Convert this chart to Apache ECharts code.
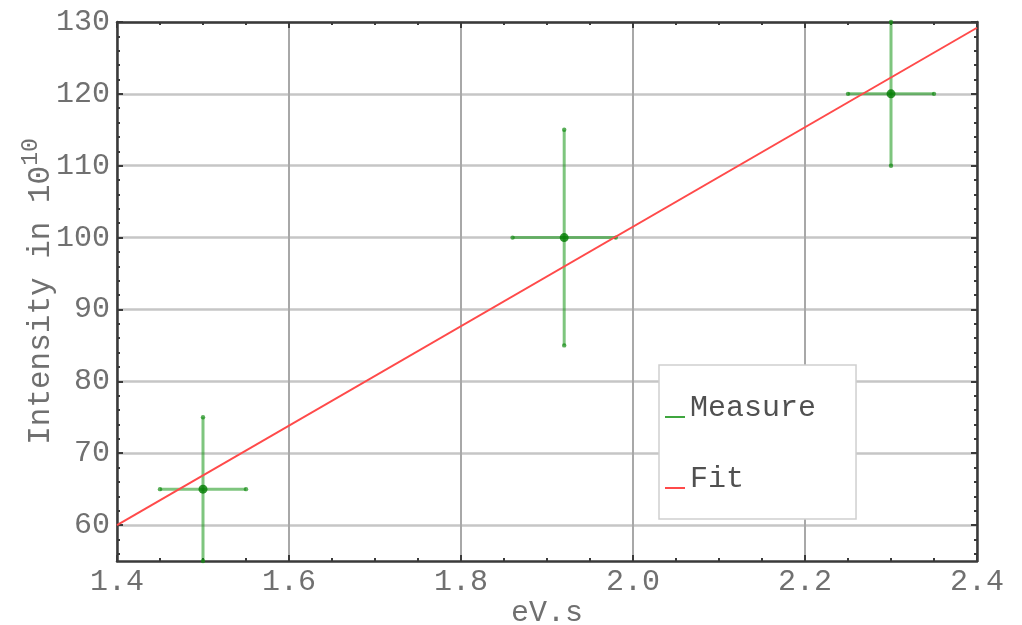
<!DOCTYPE html>
<html>
<head>
<meta charset="utf-8">
<script src="https://cdn.jsdelivr.net/npm/echarts@6/dist/echarts.min.js"></script>
<style>html,body{margin:0;padding:0;background:#fff;}#c{width:1022px;height:625px;}</style>
</head>
<body>
<div id="c"></div>
<script>
// ---- data ----
const measureX = [1.5, 1.92, 2.3];
const measureY = [65, 100, 120];
const errX = [0.05, 0.06, 0.05];
const errY = [10, 15, 10];
const fitX = [1.4, 2.4];
const fitY = [60.0, 129.2];
const xTicks = [1.4, 1.6, 1.8, 2.0, 2.2, 2.4];
const yTicks = [60, 70, 80, 90, 100, 110, 120, 130];
const yMinorTicks = [56, 58, 62, 64, 66, 68, 72, 74, 76, 78, 82, 84, 86, 88, 92, 94, 96, 98, 102, 104, 106, 108, 112, 114, 116, 118, 122, 124, 126, 128];

const FONT = '"Courier New", Courier, "Nimbus Mono PS", "Nimbus Mono L", FreeMono, "Liberation Mono", monospace';
const frame = '#3a3a3a';
const txt = '#707070';

const chart = echarts.init(document.getElementById('c'), null, {renderer: 'canvas'});

function yAx(opts) {
  return Object.assign({
    type: 'value', min: 55, max: 130, gridIndex: 0,
    axisLine: {show: false}, axisLabel: {show: false}, splitLine: {show: false},
    axisTick: {show: false}
  }, opts);
}

const legendIcon = 'path://M0,0 M0,18 L20,18 L20,20 L0,20 Z';

const option = {
  backgroundColor: '#fff',
  animation: false,
  grid: {left: 117, right: 45, top: 22, bottom: 64, containLabel: false, outerBoundsMode: 'none'},
  legend: {
    orient: 'vertical', left: 659, top: 365,
    backgroundColor: '#fff', borderColor: '#cfcfcf', borderWidth: 1.5,
    padding: [28, 40, 25, 6],
    itemWidth: 20, itemHeight: 20, itemGap: 41, itemTextGap: 5,
    selectedMode: false,
    textStyle: {fontFamily: FONT, fontSize: 30, color: '#505050'},
    data: [
      {name: 'Measure', icon: legendIcon, itemStyle: {color: '#3fa63f'}},
      {name: 'Fit', icon: legendIcon, itemStyle: {color: '#ff4a4a'}}
    ]
  },
  xAxis: [
    {
      type: 'value', min: xTicks[0], max: xTicks[xTicks.length - 1], interval: 0.2,
      name: 'eV.s', nameLocation: 'middle', nameGap: 37, nameMoveOverlap: false,
      nameTextStyle: {fontFamily: FONT, fontSize: 30, color: txt},
      axisLine: {show: true, lineStyle: {color: frame, width: 2.5}},
      axisTick: {show: true, inside: true, length: 6, lineStyle: {color: frame, width: 2}},
      minorTick: {show: true, splitNumber: 4, length: 3, lineStyle: {color: frame, width: 2}},
      axisLabel: {fontFamily: FONT, fontSize: 30, color: txt, margin: 6,
        formatter: v => v.toFixed(1)},
      splitLine: {show: true, lineStyle: {color: '#a8a8a8', width: 2}}
    },
    {
      type: 'value', position: 'top', min: xTicks[0], max: xTicks[xTicks.length - 1], interval: 0.2,
      axisLine: {show: true, lineStyle: {color: frame, width: 2.5}},
      axisTick: {show: true, inside: true, length: 6, lineStyle: {color: frame, width: 2}},
      minorTick: {show: true, splitNumber: 4, length: 3, lineStyle: {color: frame, width: 2}},
      axisLabel: {show: false}, splitLine: {show: false}
    }
  ],
  yAxis: [
    yAx({
      position: 'left',
      name: '{b|Intensity in 10}{s|10}', nameLocation: 'middle', nameGap: 54, nameRotate: 90,
      nameMoveOverlap: false,
      nameTextStyle: {
        fontFamily: FONT, color: txt,
        rich: {
          b: {fontFamily: FONT, fontSize: 31, color: txt, lineHeight: 44},
          s: {fontFamily: FONT, fontSize: 23, color: txt, verticalAlign: 'top', lineHeight: 24}
        }
      },
      axisLine: {show: true, lineStyle: {color: frame, width: 2.5}},
      axisTick: {show: true, inside: true, length: 6, customValues: yTicks, lineStyle: {color: frame, width: 2}},
      axisLabel: {show: true, customValues: yTicks, fontFamily: FONT, fontSize: 30, color: txt, margin: 7},
      splitLine: {show: true, lineStyle: {color: '#c6c6c6', width: 2.5}}
    }),
    yAx({
      position: 'left',
      axisTick: {show: true, inside: true, length: 3, customValues: yMinorTicks, lineStyle: {color: frame, width: 2}}
    }),
    yAx({
      position: 'right',
      axisLine: {show: true, lineStyle: {color: frame, width: 2.5}},
      axisTick: {show: true, inside: true, length: 6, customValues: yTicks, lineStyle: {color: frame, width: 2}}
    }),
    yAx({
      position: 'right',
      axisTick: {show: true, inside: true, length: 3, customValues: yMinorTicks, lineStyle: {color: frame, width: 2}}
    })
  ],
  series: [
    {
      name: 'Measure', type: 'custom', xAxisIndex: 0, yAxisIndex: 0,
      itemStyle: {color: '#3fa63f'},
      data: measureX.map((x, i) => [x, measureY[i], errX[i], errY[i]]),
      encode: {x: 0, y: 1},
      clip: false,
      renderItem: function (params, api) {
        const x = api.value(0), y = api.value(1), ex = api.value(2), ey = api.value(3);
        const l = api.coord([x - ex, y]), r = api.coord([x + ex, y]);
        const t = api.coord([x, y + ey]), b = api.coord([x, y - ey]);
        const st = {stroke: 'rgba(20,150,20,0.55)', lineWidth: 3};
        const cap = {fill: 'rgba(20,140,20,0.7)'};
        const children = [
          {type: 'line', shape: {x1: l[0], y1: l[1], x2: r[0], y2: r[1]}, style: st},
          {type: 'line', shape: {x1: t[0], y1: t[1], x2: b[0], y2: b[1]}, style: st}
        ];
        [l, r, t, b].forEach(p => children.push({type: 'circle', shape: {cx: p[0], cy: p[1], r: 2.2}, style: cap}));
        return {type: 'group', children: children};
      },
      z: 3
    },
    {
      name: 'Measure', type: 'scatter', xAxisIndex: 0, yAxisIndex: 0,
      symbol: 'circle', symbolSize: 9,
      itemStyle: {color: '#007a00'},
      data: measureX.map((x, i) => [x, measureY[i]]),
      z: 5
    },
    {
      name: 'Fit', type: 'line', xAxisIndex: 0, yAxisIndex: 0,
      showSymbol: false, symbol: 'none',
      lineStyle: {color: '#ff4a4a', width: 2},
      itemStyle: {color: '#ff4a4a'},
      data: fitX.map((x, i) => [x, fitY[i]]),
      z: 4
    }
  ]
};
chart.setOption(option);
</script>
</body>
</html>
